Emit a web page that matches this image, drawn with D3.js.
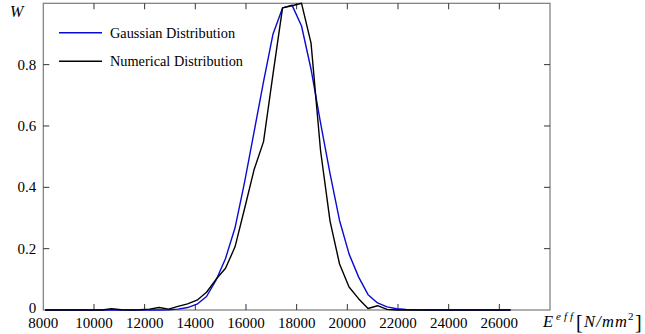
<!DOCTYPE html>
<html>
<head>
<meta charset="utf-8">
<script src="https://cdn.jsdelivr.net/npm/d3@7"></script>
<style>
body { margin: 0; background: #fff; }
</style>
</head>
<body>
<script>
var w = 645;
var h = 334;

// E_eff sample points
var eff = [8068, 8443, 8818, 9193, 9568, 9943, 10318, 10693, 11068, 11443,
           11818, 12193, 12568, 12943, 13318, 13693, 14068, 14443, 14818, 15193,
           15568, 15943, 16318, 16693, 17068, 17443, 17818, 18193, 18568, 18943,
           19318, 19693, 20068, 20443, 20818, 21193, 21568, 21943, 22318, 22693,
           23068, 23443, 23818, 24193, 24568, 24943, 25318, 25693, 26068, 26443];

var gauss = [0, 0, 0, 0, 0, 0, 0, 0, 0, 0,
             0, 0, 0.0002, 0.001, 0.003, 0.008, 0.019, 0.044, 0.097, 0.168,
             0.268, 0.416, 0.58, 0.745, 0.9, 0.985, 0.994, 0.926, 0.785, 0.61,
             0.445, 0.292, 0.183, 0.108, 0.05, 0.023, 0.01, 0.004, 0.0015, 0.0005,
             0, 0, 0, 0, 0, 0, 0, 0, 0, 0];

var numer = [0, 0, 0, 0, 0, 0, 0, 0.004, 0.001, 0,
             0.001, 0.003, 0.008, 0.003, 0.012, 0.02, 0.032, 0.058, 0.1, 0.136,
             0.206, 0.33, 0.457, 0.549, 0.77, 0.985, 0.992, 1.0, 0.87, 0.52,
             0.29, 0.15, 0.075, 0.037, 0.005, 0.014, 0.002, 0, 0, 0,
             0, 0, 0, 0, 0, 0, 0, 0, 0, 0];

var xTicks = [8000, 10000, 12000, 14000, 16000, 18000, 20000, 22000, 24000, 26000];
var yTicks = [0, 0.2, 0.4, 0.6, 0.8];
var legend = ["Gaussian Distribution", "Numerical Distribution"];
var colors = ["#0a0ad2", "#000000"];

var margin = {left: 43.3, right: 95, top: 3.3, bottom: 24};

var svg = d3.select("body")
            .append("svg")
            .attr("width", w)
            .attr("height", h)
            .attr("font-family", "'Liberation Serif', 'Times New Roman', 'DejaVu Serif', serif");

var x = d3.scaleLinear()
          .domain([8000, 28000])
          .range([margin.left, w - margin.right]);
var y = d3.scaleLinear()
          .domain([0, 1])
          .range([h - margin.bottom, margin.top]);

// frame
svg.append("rect")
   .attr("x", x(8000))
   .attr("y", y(1))
   .attr("width", x(28000) - x(8000))
   .attr("height", y(0) - y(1))
   .attr("fill", "none")
   .attr("stroke", "#7a7a7a")
   .attr("stroke-width", 1.2);

var tl = 6;
// bottom + top ticks
svg.selectAll(".xt")
   .data(xTicks.slice(1))
   .enter()
   .append("line")
   .attr("x1", function(d){ return x(d); })
   .attr("x2", function(d){ return x(d); })
   .attr("y1", y(0))
   .attr("y2", y(0) - tl)
   .attr("stroke", "#333");
svg.selectAll(".xtt")
   .data(xTicks.slice(1))
   .enter()
   .append("line")
   .attr("x1", function(d){ return x(d); })
   .attr("x2", function(d){ return x(d); })
   .attr("y1", y(1))
   .attr("y2", y(1) + tl)
   .attr("stroke", "#333");
// left + right ticks
svg.selectAll(".yt")
   .data(yTicks.slice(1))
   .enter()
   .append("line")
   .attr("x1", x(8000))
   .attr("x2", x(8000) + tl)
   .attr("y1", function(d){ return y(d); })
   .attr("y2", function(d){ return y(d); })
   .attr("stroke", "#333");
svg.selectAll(".ytr")
   .data(yTicks.slice(1))
   .enter()
   .append("line")
   .attr("x1", x(28000))
   .attr("x2", x(28000) - tl)
   .attr("y1", function(d){ return y(d); })
   .attr("y2", function(d){ return y(d); })
   .attr("stroke", "#333");

svg.selectAll(".xl")
   .data(xTicks)
   .enter()
   .append("text")
   .attr("x", function(d){ return x(d); })
   .attr("y", y(0) + 17.5)
   .attr("text-anchor", "middle")
   .attr("font-size", "15px")
   .text(function(d){ return d; });

svg.selectAll(".yl")
   .data(yTicks)
   .enter()
   .append("text")
   .attr("x", x(8000) - 7)
   .attr("y", function(d){ return y(d) + (d === 0 ? 3 : 5); })
   .attr("text-anchor", "end")
   .attr("font-size", "15px")
   .text(function(d){ return d === 0 ? "0" : d3.format(".1f")(d); });

// axis titles
svg.append("text")
   .attr("x", 10)
   .attr("y", 17)
   .attr("font-size", "16px")
   .attr("font-style", "italic")
   .text("W");

var xt = svg.append("text")
            .attr("y", 327)
            .attr("font-size", "16.5px");
xt.append("tspan").attr("x", 543).attr("font-style", "italic").text("E");
xt.append("tspan").attr("x", 556).attr("y", 320).attr("font-style", "italic")
  .attr("font-size", "11px").attr("textLength", 17).attr("lengthAdjust", "spacing").text("eff");
xt.append("tspan").attr("x", 576).attr("y", 329).attr("font-size", "20px").text("[");
xt.append("tspan").attr("x", 584).attr("y", 327).attr("font-style", "italic")
  .attr("textLength", 43).attr("lengthAdjust", "spacing").text("N/mm");
xt.append("tspan").attr("x", 628).attr("y", 320).attr("font-size", "11px").text("2");
xt.append("tspan").attr("x", 635).attr("y", 329).attr("font-size", "20px").text("]");

// curves
var series = [gauss, numer];
var line = d3.line()
             .x(function(d, i){ return x(eff[i]); })
             .y(function(d){ return y(d); });

svg.selectAll(".curve")
   .data(series)
   .enter()
   .append("path")
   .attr("d", line)
   .attr("fill", "none")
   .attr("stroke", function(d, i){ return colors[i]; })
   .attr("stroke-width", 1.4)
   .attr("stroke-linejoin", "round");

// legend
var lg = svg.selectAll(".lg")
            .data(legend)
            .enter()
            .append("g")
            .attr("transform", function(d, i){ return "translate(0," + (32.7 + i * 28.5) + ")"; });
lg.append("line")
  .attr("x1", 59)
  .attr("x2", 102)
  .attr("stroke", function(d, i){ return colors[i]; })
  .attr("stroke-width", 1.4);
lg.append("text")
  .attr("x", 110)
  .attr("y", 5)
  .attr("font-size", "14.3px")
  .text(function(d){ return d; });
</script>
</body>
</html>
